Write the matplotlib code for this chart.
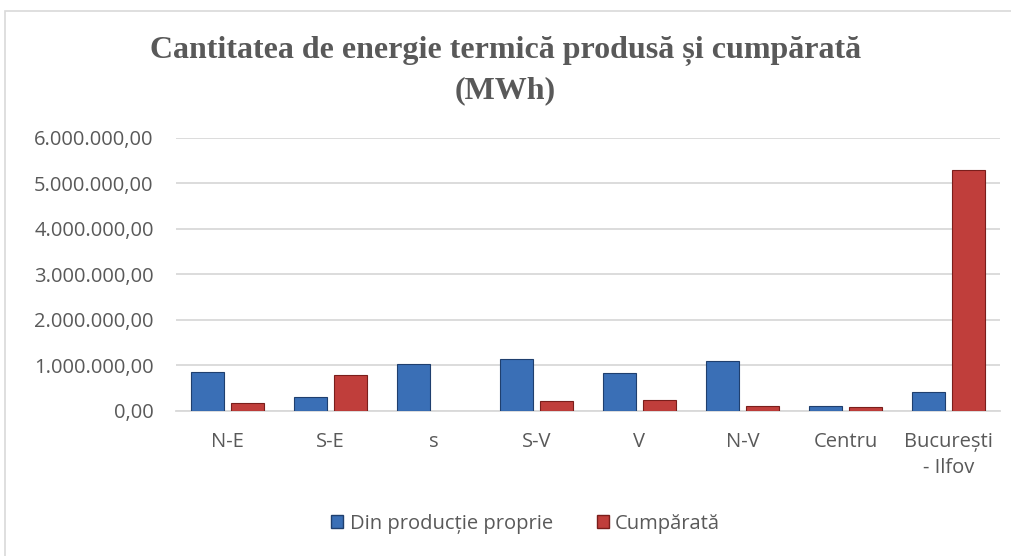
import matplotlib.pyplot as plt
import matplotlib.patches as mpatches
import numpy as np
from matplotlib.ticker import FuncFormatter

# Data (MWh)
regions = ['N-E', 'S-E', 's', 'S-V', 'V', 'N-V', 'Centru', 'București\n- Ilfov']
productie = [860000, 310000, 1030000, 1140000, 830000, 1100000, 110000, 420000]
cumparata = [180000, 790000, 0, 220000, 240000, 110000, 90000, 5300000]

blue = '#3A6FB6'
blue_edge = '#1F3F6E'
red = '#C03E3B'
red_edge = '#7A1E1B'
txt = '#595959'

plt.rcParams['font.family'] = ['Open Sans', 'DejaVu Sans']

fig = plt.figure(figsize=(10.11, 5.56), dpi=100)
ax = fig.add_axes([0.174, 0.261, 0.815, 0.491])

# chart border
fig.patches.append(mpatches.Rectangle((0.005, -0.01), 1.2, 0.99, transform=fig.transFigure,
                                      fill=False, edgecolor='#D9D9D9', lw=1.2))

x = np.arange(len(regions))
w = 0.32
off = 0.195
ax.bar(x - off, productie, w, color=blue, edgecolor=blue_edge, lw=0.8, zorder=3)
red_bars = ax.bar(x + off, cumparata, w, color=red, edgecolor=red_edge, lw=0.8, zorder=3)
for b, v in zip(red_bars, cumparata):
    if v == 0:
        b.set_visible(False)

ax.set_xlim(-0.5, len(regions) - 0.5)
ax.set_ylim(0, 6000000)
ax.set_yticks(np.arange(0, 6000001, 1000000))

def fmt(v, pos):
    s = f'{int(v):,}'.replace(',', '.')
    return s + ',00'

ax.yaxis.set_major_formatter(FuncFormatter(fmt))
ax.grid(axis='y', color='#D9D9D9', lw=1.3, zorder=0)
for s in ['top', 'right', 'left']:
    ax.spines[s].set_visible(False)
ax.spines['bottom'].set_color('#D9D9D9')
ax.spines['bottom'].set_linewidth(1.3)
ax.tick_params(axis='both', length=0, labelsize=14.5, colors=txt)
ax.tick_params(axis='y', pad=16)
ax.tick_params(axis='x', pad=15)
ax.set_xticks(x)
ax.set_xticklabels(regions, linespacing=1.4)

fig.text(0.5, 0.873, 'Cantitatea de energie termică produsă și cumpărată\n(MWh)',
         ha='center', va='center', family='Liberation Serif', fontweight='bold',
         fontsize=23, color=txt, linespacing=1.5)

handles = [mpatches.Patch(facecolor=blue, edgecolor=blue_edge, label='Din producție proprie'),
           mpatches.Patch(facecolor=red, edgecolor=red_edge, label='Cumpărată')]
fig.legend(handles=handles, loc='center', bbox_to_anchor=(0.52, 0.058), ncol=2,
           frameon=False, fontsize=14.5, labelcolor=txt, handlelength=0.6,
           handleheight=0.6, handletextpad=0.3, columnspacing=2.2)

fig.savefig('out.png', dpi=100)
